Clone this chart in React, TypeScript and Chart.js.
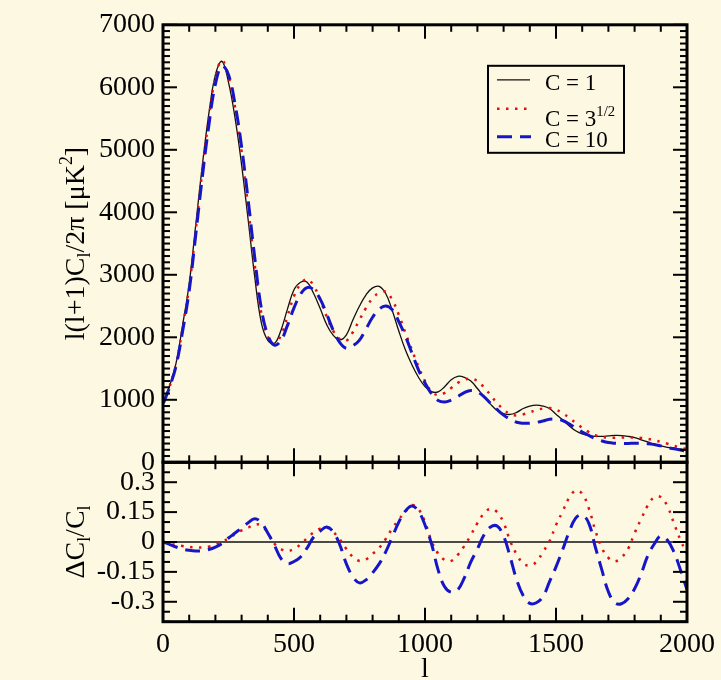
import React, { useEffect, useRef } from 'react';
import { Chart, registerables } from 'chart.js';

Chart.register(...registerables);

// Multipoles l on which the spectra are tabulated
const ELL = [
  2, 25, 50, 75, 100, 125, 150, 175, 200, 225, 250, 275, 300, 325, 350, 375, 400, 425, 450, 475,
  500, 525, 550, 575, 600, 625, 650, 675, 700, 725, 750, 775, 800, 825, 850, 875, 900, 925, 950, 975,
  1000, 1025, 1050, 1075, 1100, 1125, 1150, 1175, 1200, 1225, 1250, 1275, 1300, 1325, 1350, 1375, 1400, 1425, 1450, 1475,
  1500, 1525, 1550, 1575, 1600, 1625, 1650, 1675, 1700, 1725, 1750, 1775, 1800, 1825, 1850, 1875, 1900, 1925, 1950, 1975,
  2000,
];

// l(l+1)C_l/2π [μK²] for C = 1
const DL_C1 = [
  950, 1220, 1590, 2200, 2860, 3800, 4750, 5580, 6200, 6415, 6080, 5510, 4760, 3880, 2970, 2240, 1950, 1900, 2110, 2450,
  2760, 2880, 2880, 2700, 2460, 2200, 2030, 1960, 2040, 2280, 2500, 2680, 2790, 2815, 2700, 2430, 2100, 1800, 1560, 1360,
  1210, 1130, 1125, 1210, 1320, 1375, 1360, 1300, 1180, 1050, 930, 830, 780, 765, 800, 860, 900, 915, 900, 860,
  770, 680, 585, 505, 455, 425, 415, 415, 422, 430, 428, 415, 395, 360, 325, 290, 262, 240, 225, 210,
  195,
];

// l(l+1)C_l/2π [μK²] for C = 3^(1/2)
const DL_C3 = [
  950, 1210, 1570, 2160, 2810, 3720, 4660, 5500, 6160, 6430, 6170, 5680, 4970, 4080, 3160, 2390, 2010, 1890, 2030, 2335,
  2660, 2850, 2930, 2825, 2600, 2330, 2100, 1970, 1945, 2085, 2280, 2470, 2625, 2710, 2730, 2600, 2360, 2070, 1800, 1530,
  1300, 1130, 1075, 1110, 1190, 1270, 1320, 1338, 1300, 1200, 1075, 945, 845, 770, 750, 767, 800, 835, 860, 868,
  842, 785, 712, 630, 553, 485, 432, 404, 394, 392, 395, 395, 398, 390, 375, 353, 328, 298, 265, 235,
  205,
];

// l(l+1)C_l/2π [μK²] for C = 10
const DL_C10 = [
  950, 1200, 1545, 2100, 2745, 3640, 4560, 5390, 6050, 6340, 6200, 5730, 5050, 4200, 3280, 2470, 2035, 1875, 1945, 2190,
  2470, 2690, 2795, 2760, 2610, 2370, 2110, 1915, 1825, 1865, 1955, 2135, 2320, 2450, 2500, 2440, 2250, 2020, 1750, 1480,
  1270, 1095, 990, 965, 995, 1050, 1115, 1150, 1125, 1050, 945, 845, 755, 690, 640, 625, 624, 638, 660, 688,
  690, 668, 615, 550, 485, 430, 380, 342, 315, 305, 302, 302, 304, 304, 298, 285, 262, 237, 215, 195,
  175,
];

// Relative difference ΔC_l/C_l with respect to C = 1
const REL_C3 = [
  0, -0.008, -0.015, -0.02, -0.025, -0.027, -0.028, -0.024, -0.012, 0.003, 0.017, 0.04, 0.058, 0.072, 0.088, 0.083, 0.045, -0.008, -0.035, -0.045,
  -0.035, -0.012, 0.02, 0.048, 0.067, 0.072, 0.05, 0.012, -0.035, -0.075, -0.095, -0.087, -0.06, -0.03, 0.015, 0.068, 0.113, 0.152, 0.185, 0.165,
  0.1, 0.005, -0.058, -0.09, -0.095, -0.065, -0.02, 0.035, 0.095, 0.143, 0.167, 0.15, 0.097, 0.005, -0.062, -0.108, -0.118, -0.1, -0.05, 0.003,
  0.085, 0.152, 0.222, 0.258, 0.242, 0.17, 0.058, -0.03, -0.08, -0.097, -0.077, -0.035, 0.045, 0.115, 0.183, 0.225, 0.225, 0.18, 0.095, 0.01,
  -0.06,
];

const REL_C10 = [
  0, -0.012, -0.025, -0.036, -0.042, -0.045, -0.044, -0.038, -0.026, -0.008, 0.02, 0.045, 0.07, 0.097, 0.117, 0.098, 0.045, -0.015, -0.082, -0.108,
  -0.098, -0.075, -0.03, 0.025, 0.055, 0.075, 0.05, -0.015, -0.11, -0.175, -0.205, -0.19, -0.155, -0.11, -0.05, 0.025, 0.1, 0.155, 0.18, 0.155,
  0.085, -0.01, -0.14, -0.225, -0.252, -0.24, -0.18, -0.1, -0.035, 0.035, 0.075, 0.08, 0.03, -0.075, -0.19, -0.27, -0.308, -0.305, -0.275, -0.2,
  -0.125, -0.04, 0.05, 0.12, 0.135, 0.095, -0.025, -0.14, -0.25, -0.305, -0.31, -0.285, -0.235, -0.16, -0.07, -0.01, 0.03, 0.01, -0.05, -0.14,
  -0.24,
];

const ELL_TICKS = [0, 500, 1000, 1500, 2000];
const SPEC_TICKS = [0, 1000, 2000, 3000, 4000, 5000, 6000, 7000];
const REL_TICKS = [-0.3, -0.15, 0, 0.15, 0.3];

const BG = '#fdf8e1';
const SERIF = '"Liberation Serif", "Times New Roman", serif';
const BLACK = '#111111';
const RED = '#e01010';
const BLUE = '#1616c8';
const RED_DASH = [2.5, 6.5];
const BLUE_DASH = [15, 8];

const pts = (ys: number[]) => ELL.map((l, i) => ({ x: l, y: ys[i] }));

type Part = { t: string; k?: 'sub' | 'sup' };

function drawRich(ctx: CanvasRenderingContext2D, parts: Part[], x: number, y: number, size: number, measureOnly = false) {
  let cx = x;
  for (const p of parts) {
    const s = p.k ? size * 0.64 : size;
    const dy = p.k === 'sub' ? size * 0.22 : p.k === 'sup' ? -size * 0.44 : 0;
    ctx.font = `${s}px ${SERIF}`;
    if (!measureOnly) ctx.fillText(p.t, cx, y + dy);
    cx += ctx.measureText(p.t).width;
  }
  return cx - x;
}

function drawVerticalTitle(ctx: CanvasRenderingContext2D, parts: Part[], baseX: number, centerY: number, size: number) {
  ctx.save();
  ctx.translate(baseX, centerY);
  ctx.rotate(-Math.PI / 2);
  ctx.textBaseline = 'alphabetic';
  ctx.textAlign = 'left';
  const w = drawRich(ctx, parts, 0, 0, size, true);
  drawRich(ctx, parts, -w / 2, 0, size);
  ctx.restore();
}

const TITLE_SPEC: Part[] = [
  { t: 'l(l+1)C' }, { t: 'l', k: 'sub' }, { t: '/2π [μK' }, { t: '2', k: 'sup' }, { t: ']' },
];
const TITLE_REL: Part[] = [{ t: 'ΔC' }, { t: 'l', k: 'sub' }, { t: '/C' }, { t: 'l', k: 'sub' }];

const framePlugin = {
  id: 'frame',
  beforeDraw(chart: any) {
    const { ctx } = chart;
    ctx.save();
    ctx.fillStyle = BG;
    ctx.fillRect(0, 0, chart.width, chart.height);
    ctx.restore();
  },
  afterDraw(chart: any) {
    const { ctx } = chart;
    const xs = chart.scales.x;
    const ys = chart.scales.y;
    const yr = chart.scales.yr;
    const L = xs.left;
    const R = xs.right;
    ctx.save();
    ctx.strokeStyle = '#000';
    ctx.lineCap = 'butt';

    // inward tick marks
    ctx.lineWidth = 2;
    const seg = (x0: number, y0: number, x1: number, y1: number) => {
      ctx.beginPath();
      ctx.moveTo(x0, y0);
      ctx.lineTo(x1, y1);
      ctx.stroke();
    };
    const MAJOR = 14;
    const MINOR = 7;
    for (let l = 0; l <= 2000; l += 100) {
      const px = xs.getPixelForValue(l);
      const len = l % 500 === 0 ? MAJOR : MINOR;
      seg(px, ys.top, px, ys.top + len);
      seg(px, ys.bottom, px, ys.bottom - len);
      seg(px, yr.top, px, yr.top + len);
      seg(px, yr.bottom, px, yr.bottom - len);
    }
    for (let v = 0; v <= 7000; v += 100) {
      const py = ys.getPixelForValue(v);
      const len = v % 1000 === 0 ? MAJOR : MINOR;
      seg(L, py, L + len, py);
      seg(R, py, R - len, py);
    }
    for (let k = -8; k <= 8; k++) {
      const py = yr.getPixelForValue(k * 0.05);
      const len = k % 3 === 0 ? MAJOR : MINOR;
      seg(L, py, L + len, py);
      seg(R, py, R - len, py);
    }

    // panel frames
    ctx.lineWidth = 3;
    ctx.strokeRect(L, ys.top, R - L, ys.bottom - ys.top);
    ctx.strokeRect(L, yr.top, R - L, yr.bottom - yr.top);

    // axis titles
    ctx.fillStyle = '#000';
    drawVerticalTitle(ctx, TITLE_SPEC, 84, (ys.top + ys.bottom) / 2, 28);
    drawVerticalTitle(ctx, TITLE_REL, 84, (yr.top + yr.bottom) / 2, 28);
    ctx.font = `28px ${SERIF}`;
    ctx.textAlign = 'center';
    ctx.textBaseline = 'alphabetic';
    ctx.fillText('l', (L + R) / 2, 677);

    // legend
    const lx = L + 325;
    const ly = ys.top + 41;
    ctx.lineWidth = 2;
    ctx.strokeRect(lx, ly, 136, 87);
    const sx0 = lx + 9;
    const sx1 = lx + 42;
    const tx = lx + 57;
    ctx.lineWidth = 1.3;
    ctx.strokeStyle = BLACK;
    seg(sx0, ly + 14, sx1, ly + 14);
    ctx.lineWidth = 2.5;
    ctx.strokeStyle = RED;
    ctx.setLineDash(RED_DASH);
    seg(sx0, ly + 43, sx1, ly + 43);
    ctx.lineWidth = 3;
    ctx.strokeStyle = BLUE;
    ctx.setLineDash(BLUE_DASH);
    seg(sx0, ly + 71, sx1 + 1, ly + 71);
    ctx.setLineDash([]);
    ctx.textAlign = 'left';
    ctx.fillStyle = '#000';
    drawRich(ctx, [{ t: 'C = 1' }], tx, ly + 24, 23);
    drawRich(ctx, [{ t: 'C = 3' }, { t: '1/2', k: 'sup' }], tx, ly + 60, 23);
    drawRich(ctx, [{ t: 'C = 10' }], tx, ly + 81, 23);

    ctx.restore();
  },
};

const tickFont = { family: SERIF, size: 28 };
const noGrid = { display: false, drawTicks: false };

export default function App() {
  const ref = useRef<HTMLCanvasElement | null>(null);

  useEffect(() => {
    if (!ref.current) return;
    const chart = new Chart(ref.current, {
      type: 'line',
      data: {
        datasets: [
          { label: 'C = 1', data: pts(DL_C1), yAxisID: 'y', borderColor: BLACK, borderWidth: 1.3, order: 3 },
          { label: 'C = 3^1/2', data: pts(DL_C3), yAxisID: 'y', borderColor: RED, borderWidth: 2.5, borderDash: RED_DASH, order: 2 },
          { label: 'C = 10', data: pts(DL_C10), yAxisID: 'y', borderColor: BLUE, borderWidth: 3, borderDash: BLUE_DASH, order: 1 },
          { label: 'zero', data: [{ x: 0, y: 0 }, { x: 2000, y: 0 }], yAxisID: 'yr', borderColor: BLACK, borderWidth: 1.3, order: 3 },
          { label: 'ΔC/C 3^1/2', data: pts(REL_C3), yAxisID: 'yr', borderColor: RED, borderWidth: 2.5, borderDash: RED_DASH, order: 2 },
          { label: 'ΔC/C 10', data: pts(REL_C10), yAxisID: 'yr', borderColor: BLUE, borderWidth: 3, borderDash: BLUE_DASH, order: 1 },
        ],
      },
      options: {
        animation: false,
        responsive: false,
        devicePixelRatio: 1,
        events: [],
        elements: {
          point: { radius: 0 },
          line: { tension: 0.4, fill: false, borderCapStyle: 'butt' },
        },
        layout: { padding: { left: 83, right: 32.5, top: 20, bottom: 18.3 } },
        plugins: { legend: { display: false }, tooltip: { enabled: false } },
        scales: {
          x: {
            type: 'linear',
            min: 0,
            max: 2000,
            afterBuildTicks: (s: any) => { s.ticks = ELL_TICKS.map((value) => ({ value })); },
            ticks: { font: tickFont, color: '#000', padding: 6, maxRotation: 0, autoSkip: false, callback: (v: any) => String(v) },
            grid: noGrid,
            border: { display: false },
            afterFit: (s: any) => { s.height = 40; },
          },
          yr: {
            type: 'linear',
            position: 'left',
            stack: 'panels',
            stackWeight: 160.7,
            min: -0.4,
            max: 0.4,
            afterBuildTicks: (s: any) => { s.ticks = REL_TICKS.map((value) => ({ value })); },
            ticks: { font: tickFont, color: '#000', padding: 8, autoSkip: false, callback: (v: any) => String(v) },
            grid: noGrid,
            border: { display: false },
            afterFit: (s: any) => { s.width = 80; },
          },
          y: {
            type: 'linear',
            position: 'left',
            stack: 'panels',
            stackWeight: 441,
            min: 0,
            max: 7000,
            afterBuildTicks: (s: any) => { s.ticks = SPEC_TICKS.map((value) => ({ value })); },
            ticks: { font: tickFont, color: '#000', padding: 8, autoSkip: false, callback: (v: any) => String(v) },
            grid: noGrid,
            border: { display: false },
            afterFit: (s: any) => { s.width = 80; },
          },
        },
      } as any,
      plugins: [framePlugin],
    });
    return () => chart.destroy();
  }, []);

  return (
    <div style={{ position: 'fixed', left: 0, top: 0, width: 721, height: 680, background: BG }}>
      <canvas ref={ref} width={721} height={680} style={{ display: 'block' }} />
    </div>
  );
}
